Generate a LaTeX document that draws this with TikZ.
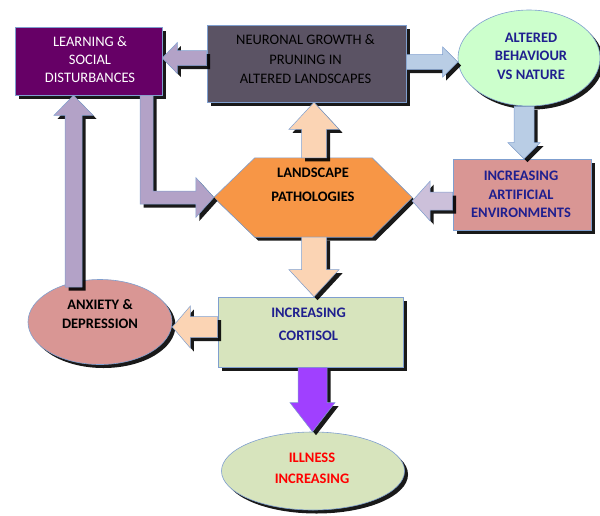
\documentclass[tikz,border=0pt]{standalone}
\usepackage{fontspec}
\setmainfont{Carlito}
\usetikzlibrary{shapes.geometric,shadows,calc}
\definecolor{edgec}{HTML}{7F9FCF}
\definecolor{learnc}{HTML}{660066}
\definecolor{neurc}{HTML}{5B5364}
\definecolor{altc}{HTML}{CCFFCC}
\definecolor{rosec}{HTML}{D99694}
\definecolor{orangec}{HTML}{F79646}
\definecolor{greenc}{HTML}{D7E4BD}
\definecolor{lavc}{HTML}{B3A2C7}
\definecolor{lavlc}{HTML}{CCC0DA}
\definecolor{bluec}{HTML}{B9CDE5}
\definecolor{peachc}{HTML}{FBD4B4}
\definecolor{purplec}{HTML}{A040FF}
\definecolor{navyc}{HTML}{1F1F8F}
\definecolor{redc}{HTML}{FF0000}
\tikzset{
  shad/.style={drop shadow={shadow xshift=3.5pt,shadow yshift=-3.5pt,opacity=0.9,fill=black}},
  rectbox/.style={rectangle,draw=edgec,line width=0.6pt,shad,inner sep=0pt},
  ellbox/.style={ellipse,draw=edgec,line width=0.6pt,shad,inner sep=0pt},
  hexholder/.style={rectangle,inner sep=0pt},
  hexfill/.style={fill=orangec,draw=edgec,line width=0.6pt,shad},
  arrbase/.style={draw=edgec,line width=0.5pt,shad},
  arrlav/.style={arrbase,fill=lavc},
  arrlavl/.style={arrbase,fill=lavlc},
  arrblue/.style={arrbase,fill=bluec},
  arrpeach/.style={arrbase,fill=peachc},
  arrpurple/.style={arrbase,fill=purplec},
  txt/.style={align=center,inner sep=0pt},
}
\newcommand\harrow[6]{%
  \path[#1] let \p1=(#2), \p2=(#3), \n1={ifthenelse(\x2>\x1,\x2-#6pt,\x2+#6pt)} in
  (\x1,\y1+#4pt) -- (\n1*1pt,\y1+#4pt) -- (\n1*1pt,\y1+#5pt) -- (\x2,\y1)
  -- (\n1*1pt,\y1-#5pt) -- (\n1*1pt,\y1-#4pt) -- (\x1,\y1-#4pt) -- cycle;}
\newcommand\varrow[6]{%
  \path[#1] let \p1=(#2), \p2=(#3), \n1={ifthenelse(\y2>\y1,\y2-#6pt,\y2+#6pt)} in
  (\x1+#4pt,\y1) -- (\x1+#4pt,\n1*1pt) -- (\x1+#5pt,\n1*1pt) -- (\x1,\y2)
  -- (\x1-#5pt,\n1*1pt) -- (\x1-#4pt,\n1*1pt) -- (\x1-#4pt,\y1) -- cycle;}
\begin{document}
\begin{tikzpicture}[x=1pt,y=-1pt]
\useasboundingbox (0,0) rectangle (600,515);
% shapes
\node[rectbox,fill=learnc,minimum width=147pt,minimum height=68pt] (learn) at (88.5,61) {};
\node[rectbox,fill=neurc,minimum width=199pt,minimum height=77pt] (neur) at (306.5,63.5) {};
\node[ellbox,fill=altc,minimum width=142pt,minimum height=96pt] (alt) at (529,58) {};
\node[rectbox,fill=rosec,minimum width=138pt,minimum height=71pt] (art) at (522,194.5) {};
\node[hexholder,minimum width=198pt,minimum height=79pt] (land) at (313,197.5) {};
\path[hexfill] (land.west) -- ([xshift=41pt]land.north west) -- ([xshift=-40pt]land.north east)
  -- (land.east) -- ([xshift=-40pt]land.south east) -- ([xshift=41pt]land.south west) -- cycle;
\node[rectbox,fill=greenc,minimum width=185pt,minimum height=70pt] (cort) at (310.5,332) {};
\node[ellbox,fill=rosec,minimum width=144pt,minimum height=85pt] (anx) at (100,322) {};
\node[ellbox,fill=greenc,minimum width=183pt,minimum height=78pt] (ill) at (313,471) {};
% arrows
\harrow{arrlav}{[yshift=5.5pt]neur.west}{learn.east}{7.5}{15.5}{15}
\harrow{arrblue}{[yshift=1.5pt]neur.east}{alt.west}{7.5}{15}{15}
\varrow{arrblue}{[xshift=-5pt]alt.south}{art.north}{10}{16}{16}
\harrow{arrlavl}{[yshift=-6.5pt]art.west}{land.east}{9}{20}{18}
\varrow{arrpeach}{[xshift=1pt]land.north}{neur.south}{12.5}{25}{27}
\varrow{arrpeach}{[xshift=1pt]land.south}{cort.north}{12.5}{25}{27}
\harrow{arrpeach}{[yshift=5pt]cort.west}{anx.east}{10.5}{21}{18}
\varrow{arrpurple}{[xshift=2pt]cort.south}{ill.north}{14.5}{22.5}{29}
\varrow{arrlav}{[xshift=-26.5pt,yshift=-8pt]anx.north}{learn.south}{8.5}{19.5}{20}
\path[arrlav] let \p1=([xshift=58pt]learn.south), \p2=(land.west) in
  (\x1-6.5pt,\y1) -- (\x1-6.5pt,\y2-6.5pt) -- (\x2-18pt,\y2-6.5pt) -- (\x2-18pt,\y2-20pt)
  -- (\x2,\y2) -- (\x2-18pt,\y2+20pt) -- (\x2-18pt,\y2+6.5pt) -- (\x1+6.5pt,\y2+6.5pt)
  -- (\x1+6.5pt,\y1) -- cycle;
% texts
\node[txt,text=white,font=\fontsize{14.5}{18}\selectfont] (learn-t) at ([xshift=1.5pt,yshift=1pt]learn.center) {LEARNING \&\\SOCIAL\\DISTURBANCES};
\node[txt,text=black,font=\fontsize{14.5}{19.5}\selectfont] (neur-t) at ([xshift=-1pt,yshift=4pt]neur.center) {NEURONAL GROWTH \&\\PRUNING IN\\ALTERED LANDSCAPES};
\node[txt,text=navyc,font=\fontsize{14.5}{18.5}\selectfont\bfseries] (alt-t) at ([xshift=2pt,yshift=2pt]alt.center) {ALTERED\\BEHAVIOUR\\VS NATURE};
\node[txt,text=navyc,font=\fontsize{14.5}{18.5}\selectfont\bfseries] (art-t) at ([xshift=-1pt]art.center) {INCREASING\\ARTIFICIAL\\ENVIRONMENTS};
\node[txt,text=black,font=\fontsize{14.5}{24}\selectfont\bfseries] (land-t) at ([yshift=12.5pt]land.center) {LANDSCAPE\\PATHOLOGIES};
\node[txt,text=navyc,font=\fontsize{14.5}{23}\selectfont\bfseries] (cort-t) at ([xshift=-2pt,yshift=7.5pt]cort.center) {INCREASING\\CORTISOL};
\node[txt,text=black,font=\fontsize{14.5}{19}\selectfont\bfseries] (anx-t) at ([yshift=7.5pt]anx.center) {ANXIETY \&\\DEPRESSION};
\node[txt,text=redc,font=\fontsize{14.5}{21}\selectfont\bfseries] (ill-t) at ([xshift=-1pt,yshift=2.5pt]ill.center) {ILLNESS\\INCREASING};
\end{tikzpicture}
\end{document}
